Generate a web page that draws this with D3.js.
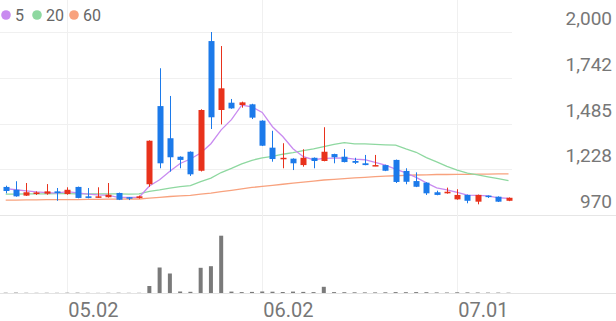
<!DOCTYPE html>
<html><head><meta charset="utf-8">
<script src="https://cdn.jsdelivr.net/npm/d3@7"></script>
<style>html,body{margin:0;padding:0;background:#fff;overflow:hidden}svg{display:block;font-family:Roboto,"Noto Sans",sans-serif}</style>
</head><body><svg id="c" width="616" height="321"></svg>
<script>
const dates = ["04.23","04.24","04.25","04.28","04.29","04.30","05.02","05.07","05.08","05.09",
"05.12","05.13","05.14","05.15","05.16","05.19","05.20","05.21","05.22","05.23",
"05.26","05.27","05.28","05.29","05.30","06.02","06.04","06.05","06.09","06.10",
"06.11","06.12","06.13","06.16","06.17","06.18","06.19","06.20","06.23","06.24",
"06.25","06.26","06.27","06.30","07.01","07.02","07.03","07.04","07.07","07.08"];
const open  = [1128,1112,1079,1088,1090,1103,1088,1128,1075,1070,1070,1094,1070,1066,1143,1583,1402,1298,1326,1219,
1949,1561,1602,1589,1593,1501,1349,1287,1287,1251,1292,1274,1313,1298,1274,1261,1246,1251,1280,1218,
1161,1152,1098,1092,1058,1083,1045,1079,1073,1050];
const high  = [1135,1160,1150,1103,1144,1122,1126,1130,1122,1126,1150,1096,1071,1079,1390,1796,1640,1300,1328,1565,
2000,1921,1623,1608,1596,1503,1444,1374,1289,1340,1294,1464,1315,1341,1292,1308,1308,1253,1282,1233,
1210,1154,1107,1124,1115,1085,1085,1080,1075,1069];
const low   = [1092,1073,1077,1083,1084,1050,1084,1064,1064,1066,1068,1054,1054,1062,1129,1233,1214,1233,1190,1215,
1454,1480,1568,1574,1510,1358,1270,1233,1223,1242,1233,1272,1261,1266,1257,1250,1245,1217,1150,1143,
1127,1083,1081,1090,1056,1036,1030,1066,1043,1048];
const close = [1105,1075,1098,1097,1103,1094,1112,1066,1066,1075,1084,1056,1062,1075,1388,1261,1295,1280,1199,1561,
1520,1683,1570,1604,1518,1360,1285,1292,1261,1292,1274,1326,1295,1268,1264,1251,1251,1219,1156,1157,
1129,1092,1083,1101,1083,1050,1083,1073,1045,1067];
const volume = [30,40,25,20,25,20,30,35,20,15,25,30,20,20,700,2550,1950,150,120,2520,
2680,5730,140,90,110,150,130,100,140,110,90,620,90,80,70,60,60,70,90,80,
90,80,60,50,70,60,50,40,40,30];
const ma5 = [1118,1112,1106,1100,1096,1093,1101,1094,1088,1083,1081,1069,1069,1070,1133,1168,1216,1260,1285,1319,
1371,1449,1507,1588,1579,1547,1467,1412,1343,1298,1281,1289,1290,1291,1285,1281,1266,1251,1228,1207,
1182,1151,1123,1112,1098,1082,1080,1078,1067,1064];
const ma20 = [1088,1088,1089,1089,1089,1090,1090,1089,1089,1089,1089,1089,1088,1089,1103,1111,1121,1130,1135,1158,
1178,1209,1232,1258,1278,1292,1300,1312,1321,1332,1342,1355,1367,1377,1370,1370,1368,1365,1363,1342,
1323,1293,1269,1244,1222,1206,1196,1185,1175,1163];
const ma60 = [1054,1054,1055,1055,1056,1056,1057,1057,1058,1058,1059,1059,1060,1060,1065,1069,1074,1078,1081,1087,
1093,1101,1109,1117,1125,1131,1137,1143,1149,1155,1161,1167,1171,1175,1179,1182,1186,1189,1191,1193,
1195,1196,1198,1198,1199,1199,1200,1200,1201,1201];
const yTicks = [970,1228,1485,1742,2000];
const xTicks = ["05.02","06.02","07.01"];
const legendNames = ["5","20","60"];
const legendColors = ["#c98bf0","#8ed8a0","#f8a27e"];

const UP="#e8321c", DOWN="#1c7aea";
const svg=d3.select("#c");
const x=d3.scalePoint().domain(dates).range([5.7,508.5]);
const y=d3.scaleLinear().domain([970,2000]).range([215,32]);
const yv=d3.scaleLinear().domain([0,6000]).range([293,233]);

svg.append("g").selectAll("line").data(yTicks).join("line")
  .attr("x1",0).attr("x2",d=>d===970?616:512)
  .attr("y1",d=>Math.round(y(d))+0.5).attr("y2",d=>Math.round(y(d))+0.5)
  .attr("stroke",d=>d===970?"#e6e6e6":"#f0f0f0").attr("stroke-width",1);
svg.append("g").selectAll("line").data(xTicks).join("line")
  .attr("x1",d=>Math.round(x(d))+0.5).attr("x2",d=>Math.round(x(d))+0.5)
  .attr("y1",0).attr("y2",293).attr("stroke","#f0f0f0");
svg.append("line").attr("x1",0).attr("x2",616).attr("y1",293.5).attr("y2",293.5).attr("stroke","#e3e3e3");

svg.append("g").selectAll("text").data(yTicks).join("text")
  .attr("x",612).attr("y",d=>y(d)-7).attr("text-anchor","end")
  .attr("font-size",19).attr("fill","#777").text(d=>d3.format(",")(d));
svg.append("g").selectAll("text").data(xTicks).join("text")
  .attr("x",d=>x(d)+1).attr("y",317).attr("font-size",20).attr("fill","#777").text(d=>d);

svg.append("g").selectAll("rect").data(volume).join("rect")
  .attr("x",(d,i)=>x(dates[i])-2).attr("width",4)
  .attr("y",d=>yv(d)).attr("height",d=>293-yv(d)).attr("fill","#7a7a7a");

const mkLine=d3.line().x((d,i)=>x(dates[i])).y(d=>y(d));
[[ma60,legendColors[2]],[ma20,legendColors[1]],[ma5,legendColors[0]]].forEach(([arr,c])=>{
  svg.append("path").attr("d",mkLine(arr)).attr("fill","none").attr("stroke",c).attr("stroke-width",1.3);
});

const cg=svg.append("g");
dates.forEach((d,i)=>{
  const up=close[i]>open[i];
  const col=up?UP:DOWN;
  const cx=Math.round(x(d))+0.5;
  cg.append("line").attr("x1",cx).attr("x2",cx).attr("y1",y(high[i])).attr("y2",y(low[i])).attr("stroke",col).attr("stroke-width",1);
  const top=y(Math.max(open[i],close[i])), bot=y(Math.min(open[i],close[i]));
  cg.append("rect").attr("x",cx-3).attr("width",6).attr("y",top).attr("height",Math.max(1.5,bot-top)).attr("fill",col);
});

const lg=svg.append("g");
const lx=[6,37,74], tx=[15,46,83];
legendNames.forEach((n,i)=>{
  lg.append("circle").attr("cx",lx[i]).attr("cy",15).attr("r",4.8).attr("fill",legendColors[i]);
  lg.append("text").attr("x",tx[i]).attr("y",21).attr("font-size",16).attr("fill","#666").text(n);
});
</script></body></html>
